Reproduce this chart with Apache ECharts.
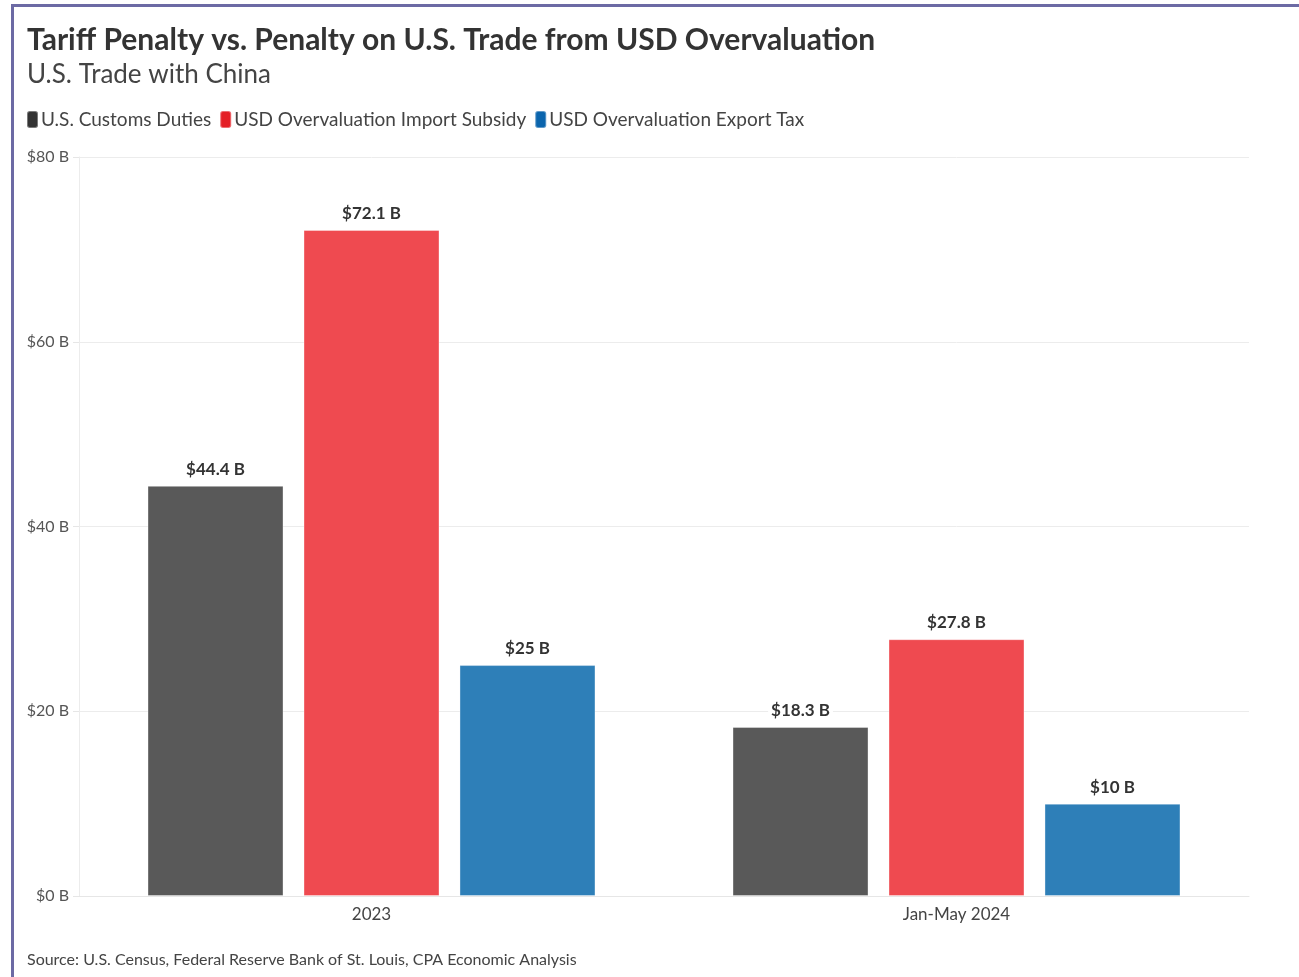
<!DOCTYPE html>
<html>
<head>
<meta charset="utf-8">
<script src="https://cdn.jsdelivr.net/npm/echarts@6/dist/echarts.min.js"></script>
<style>
  html, body { margin: 0; padding: 0; background: #fff; }
  #chart { width: 1299px; height: 977px; }
  #frame {
    position: absolute; left: 11px; top: 4px; right: 0; bottom: 0;
    border-top: 3px solid #6c6aa4; border-left: 3px solid #6c6aa4;
    pointer-events: none;
  }
</style>
</head>
<body>
<div id="chart"></div>
<div id="frame"></div>
<script>
const categories = ["2023", "Jan-May 2024"];
const customsDuties = [44.4, 18.3];
const importSubsidy = [72.1, 27.8];
const exportTax = [25, 10];
const seriesNames = ["U.S. Customs Duties", "USD Overvaluation Import Subsidy", "USD Overvaluation Export Tax"];
const barColors = ["#595959", "#ef4a50", "#2e7fb8"];
const legendColors = ["#333333", "#e41f26", "#0b65ad"];

const FONT = "Lato, 'Noto Sans', sans-serif";

const chart = echarts.init(document.getElementById("chart"), null, { renderer: "canvas" });

// 柱子和标签的通用样式
const makeSeries = (name, data, color) => ({
  name: name,
  type: "bar",
  data: data,
  barWidth: 136,
  barGap: "14.7%",
  itemStyle: { color: color, borderColor: "rgba(255,255,255,0.35)", borderWidth: 1 },
  label: {
    show: true,
    position: "top",
    distance: 7,
    formatter: (p) => "$" + p.value + " B",
    fontFamily: FONT,
    fontSize: 17,
    fontWeight: "bold",
    color: "#333",
    backgroundColor: "#fff",
    padding: [1, 3],
  },
});

const option = {
  animation: false,
  textStyle: { fontFamily: FONT },
  title: [
    {
      text: "Tariff Penalty vs. Penalty on U.S. Trade from USD Overvaluation",
      left: 22, top: 20,
      textStyle: { fontFamily: FONT, fontSize: 30, fontWeight: "bold", color: "#333" },
    },
    {
      text: "U.S. Trade with China",
      left: 22, top: 57,
      textStyle: { fontFamily: FONT, fontSize: 26, fontWeight: "normal", color: "#444" },
    },
    {
      text: "Source: U.S. Census, Federal Reserve Bank of St. Louis, CPA Economic Analysis",
      left: 22, top: 947,
      textStyle: { fontFamily: FONT, fontSize: 16, fontWeight: "normal", color: "#444" },
    },
  ],
  legend: {
    left: 21, top: 105,
    itemWidth: 11, itemHeight: 17, itemGap: 8,
    icon: "roundRect",
    textStyle: { fontFamily: FONT, fontSize: 19, color: "#444", padding: [0, 0, 0, -2] },
    data: seriesNames.map((n, i) => ({ name: n, itemStyle: { color: legendColors[i] } })),
  },
  grid: { left: 79, right: 50, top: 157, bottom: 81, containLabel: false },
  xAxis: {
    type: "category",
    data: categories,
    axisLine: { lineStyle: { color: "#e6e6e6" } },
    axisTick: { alignWithLabel: true, length: 6, lineStyle: { color: "#e6e6e6" } },
    axisLabel: { fontFamily: FONT, fontSize: 17, color: "#444", margin: 10 },
  },
  yAxis: {
    type: "value",
    min: 0, max: 80, interval: 20,
    axisLine: { show: true, lineStyle: { color: "#ececec" } },
    axisTick: { show: true, length: 6, lineStyle: { color: "#e6e6e6" } },
    splitLine: { lineStyle: { color: "#ececec" } },
    axisLabel: {
      fontFamily: FONT, fontSize: 16, color: "#555", margin: 10,
      formatter: (v) => "$" + v + " B",
    },
  },
  series: [
    makeSeries(seriesNames[0], customsDuties, barColors[0]),
    makeSeries(seriesNames[1], importSubsidy, barColors[1]),
    makeSeries(seriesNames[2], exportTax, barColors[2]),
  ],
};

chart.setOption(option);
</script>
</body>
</html>
